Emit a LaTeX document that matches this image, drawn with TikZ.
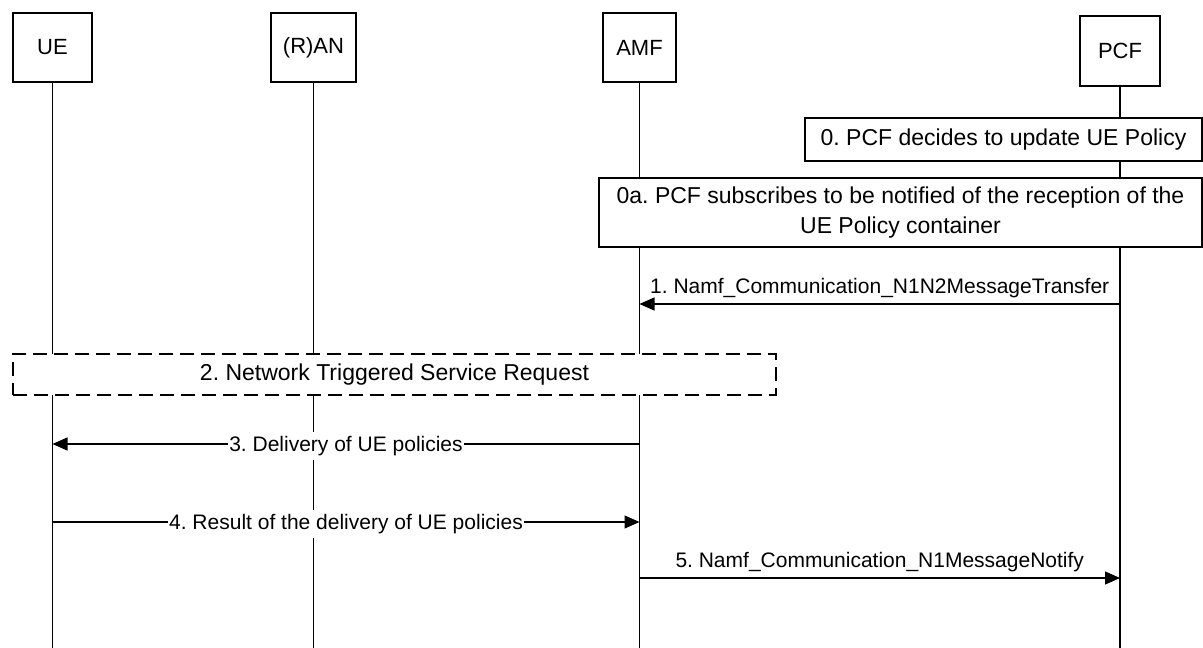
\documentclass[tikz,border=0pt]{standalone}
\usepackage{fontspec}
\setmainfont{Liberation Sans}
\usetikzlibrary{positioning,arrows.meta}
\frenchspacing

\begin{document}
\begin{tikzpicture}[x=1pt,y=-1pt,on grid,line width=1.2pt,>={Triangle[length=15pt,width=13pt]},
    entity/.style={draw,fill=white,minimum height=69pt,inner sep=0pt,font=\fontsize{22}{26}\selectfont},
    stepbox/.style={draw,fill=white,inner sep=0pt,align=center,font=\fontsize{23}{30}\selectfont},
    msg/.style={font=\fontsize{21}{25}\selectfont},
    midlabel/.style={msg,fill=white,inner xsep=1pt,inner ysep=4pt,yshift=-2pt},
    toplabel/.style={msg,yshift=16pt}]
   \useasboundingbox (0,0) rectangle (1203,648);
   \node[entity,minimum width=79pt] (e_0) at (52.5,47.5) {UE};
   \node[entity,minimum width=85pt] (e_1) [right=261pt of e_0] {(R)AN};
   \node[entity,minimum width=73pt] (e_2) [right=326pt of e_1] {AMF};
   \node[entity,minimum width=80pt,minimum height=70pt] (e_3) [right=480.5pt of e_2,yshift=-3.5pt] {PCF};
   \foreach \i in {0,...,3} \coordinate (t_\i) at (e_\i |- 0,648);
   \path (e_0) edge (t_0)
         (e_1) edge (t_1)
         (e_2) edge (t_2)
         (e_3) edge (t_3);
   \node[stepbox,minimum width=397pt,minimum height=43pt] (s_0) at (1003.5,139.5) {0. PCF decides to update UE Policy};
   \node[stepbox,minimum width=603pt,minimum height=69pt] (s_0a) at (900.5,212.5) {0a. PCF subscribes to be notified of the reception of the\\UE Policy container};
   \node[stepbox,dash pattern=on 14pt off 7pt,minimum width=763pt,minimum height=41pt] (s_2) at (394.5,374.5) {2. Network Triggered Service Request};
   \coordinate (a_1) at (e_3 |- 0,304); \coordinate (b_1) at (e_2 |- 0,304);
   \coordinate (a_3) at (e_2 |- 0,444); \coordinate (b_3) at (e_0 |- 0,444);
   \coordinate (a_4) at (e_0 |- 0,522); \coordinate (b_4) at (e_2 |- 0,522);
   \coordinate (a_5) at (e_2 |- 0,578); \coordinate (b_5) at (e_3 |- 0,578);
   \path[->]
    (a_1) edge node[toplabel] {1. Namf\_Communication\_N1N2MessageTransfer} (b_1)
    (a_3) edge node[midlabel] {3. Delivery of UE policies} (b_3)
    (a_4) edge node[midlabel] {4. Result of the delivery of UE policies} (b_4)
    (a_5) edge node[toplabel] {5. Namf\_Communication\_N1MessageNotify} (b_5);
\end{tikzpicture}
\end{document}
